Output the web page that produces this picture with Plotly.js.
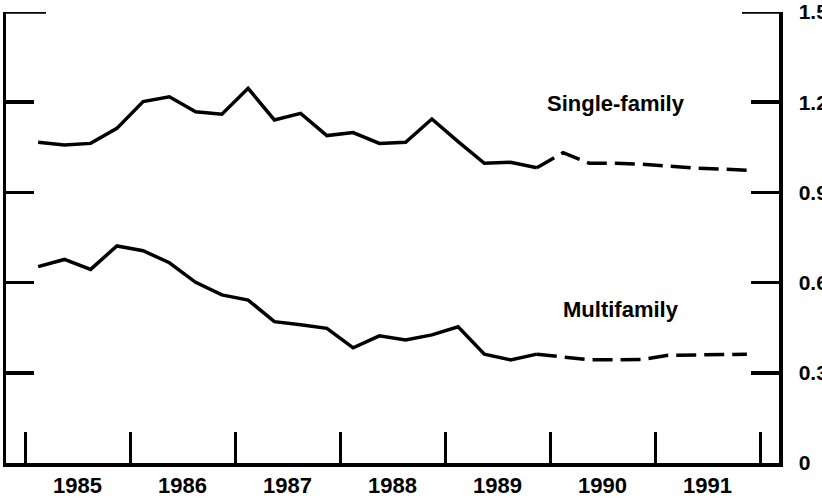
<!DOCTYPE html>
<html>
<head>
<meta charset="utf-8">
<script src="https://cdn.plot.ly/plotly-3.0.1.min.js"></script>
<style>
  html, body { margin: 0; padding: 0; background: #fff; }
  #chart { width: 822px; height: 499px; }
</style>
</head>
<body>
<div id="chart"></div>
<script>
// Quarterly periods
const actualQuarters = ["1985Q1","1985Q2","1985Q3","1985Q4","1986Q1","1986Q2","1986Q3","1986Q4",
  "1987Q1","1987Q2","1987Q3","1987Q4","1988Q1","1988Q2","1988Q3","1988Q4",
  "1989Q1","1989Q2","1989Q3","1989Q4"];
const forecastQuarters = ["1989Q4","1990Q1","1990Q2","1990Q3","1990Q4","1991Q1","1991Q2","1991Q3","1991Q4"];

// Single-family (millions of units, annual rate)
const singleActual = [1.067,1.058,1.063,1.113, 1.202,1.218,1.168,1.160,
  1.246,1.141,1.163,1.089, 1.099,1.063,1.067,1.144, 1.069,0.997,1.000,0.982];
const singleForecast = [0.982, 1.032,0.997,0.997,0.994, 0.988,0.981,0.978,0.974];

// Multifamily
const multiActual = [0.653,0.677,0.644,0.722, 0.706,0.666,0.601,0.559,
  0.542,0.470,0.460,0.448, 0.383,0.423,0.409,0.426, 0.453,0.362,0.343,0.362];
const multiForecast = [0.362, 0.353,0.343,0.343,0.344, 0.358,0.359,0.359,0.362];

// Axis labels
const yearBoundaries = [1985,1986,1987,1988,1989,1990,1991,1992];
const yearLabels = ["1985","1986","1987","1988","1989","1990","1991"];
const yTickVals = [0,0.3,0.6,0.9,1.2,1.5];
const yTickText = ["0","0.3","0.6","0.9","1.2","1.5"];

function qx(q) { const y = +q.slice(0,4); const n = +q.slice(5); return y + (n - 0.5) / 4; }

const lineStyle = {color: "#000", width: 3.5};
const fontFam = "Liberation Sans, Arial, Helvetica, sans-serif";

const traces = [
  {x: actualQuarters.map(qx), y: singleActual, mode: "lines", line: lineStyle, showlegend: false, hoverinfo: "skip"},
  {x: forecastQuarters.map(qx), y: singleForecast, mode: "lines", line: Object.assign({}, lineStyle, {dash: "20px,8px"}), showlegend: false, hoverinfo: "skip"},
  {x: actualQuarters.map(qx), y: multiActual, mode: "lines", line: lineStyle, showlegend: false, hoverinfo: "skip"},
  {x: forecastQuarters.map(qx), y: multiForecast, mode: "lines", line: Object.assign({}, lineStyle, {dash: "20px,8px"}), showlegend: false, hoverinfo: "skip"},
  {x: [1985.5], y: [0], xaxis: "x2", mode: "markers", marker: {opacity: 0}, showlegend: false, hoverinfo: "skip"}
];

const xRange = [1984.819, 1992.181];

const layout = {
  width: 822, height: 499,
  margin: {l: 6, r: 43, t: 12, b: 36},
  paper_bgcolor: "#fff", plot_bgcolor: "#fff",
  font: {family: fontFam, color: "#000"},
  xaxis: {
    range: xRange, showgrid: false, zeroline: false,
    showline: true, linecolor: "#000", linewidth: 3.5,
    tickmode: "array", tickvals: yearBoundaries,
    ticks: "inside", ticklen: 31, tickwidth: 3, tickcolor: "#000",
    showticklabels: false, fixedrange: true
  },
  xaxis2: {
    range: xRange, overlaying: "x", side: "bottom", showgrid: false, zeroline: false,
    showline: false, ticks: "",
    tickmode: "array", tickvals: yearLabels.map(s => +s + 0.5), ticktext: yearLabels,
    ticklabelstandoff: 7,
    tickfont: {size: 22, family: fontFam, color: "#000", weight: "bold"},
    fixedrange: true
  },
  yaxis: {
    range: [0, 1.5], side: "right", showgrid: false, zeroline: false,
    showline: true, linecolor: "#000", linewidth: 3.5, mirror: "ticks",
    tickmode: "array", tickvals: yTickVals, ticktext: yTickText,
    ticks: "inside", ticklen: 28, tickwidth: 3.5, tickcolor: "#000",
    ticklabelstandoff: 12,
    tickfont: {size: 21, family: fontFam, color: "#000", weight: "bold"},
    fixedrange: true
  },
  shapes: [
    {type: "line", xref: "paper", yref: "y", x0: 0, x1: 40/773, y0: 1.5, y1: 1.5, line: {color: "#000", width: 3.5}},
    {type: "line", xref: "paper", yref: "y", x0: 1 - 37/773, x1: 1, y0: 1.5, y1: 1.5, line: {color: "#000", width: 3.5}}
  ],
  annotations: [
    {x: 1990.633, y: 1.195, xref: "x", yref: "y", text: "Single-family", showarrow: false,
     xanchor: "center", yanchor: "middle", font: {size: 22, family: fontFam, color: "#000", weight: "bold"}},
    {x: 1990.676, y: 0.51, xref: "x", yref: "y", text: "Multifamily", showarrow: false,
     xanchor: "center", yanchor: "middle", font: {size: 22, family: fontFam, color: "#000", weight: "bold"}}
  ]
};

Plotly.newPlot("chart", traces, layout, {displayModeBar: false, staticPlot: true});
</script>
</body>
</html>
